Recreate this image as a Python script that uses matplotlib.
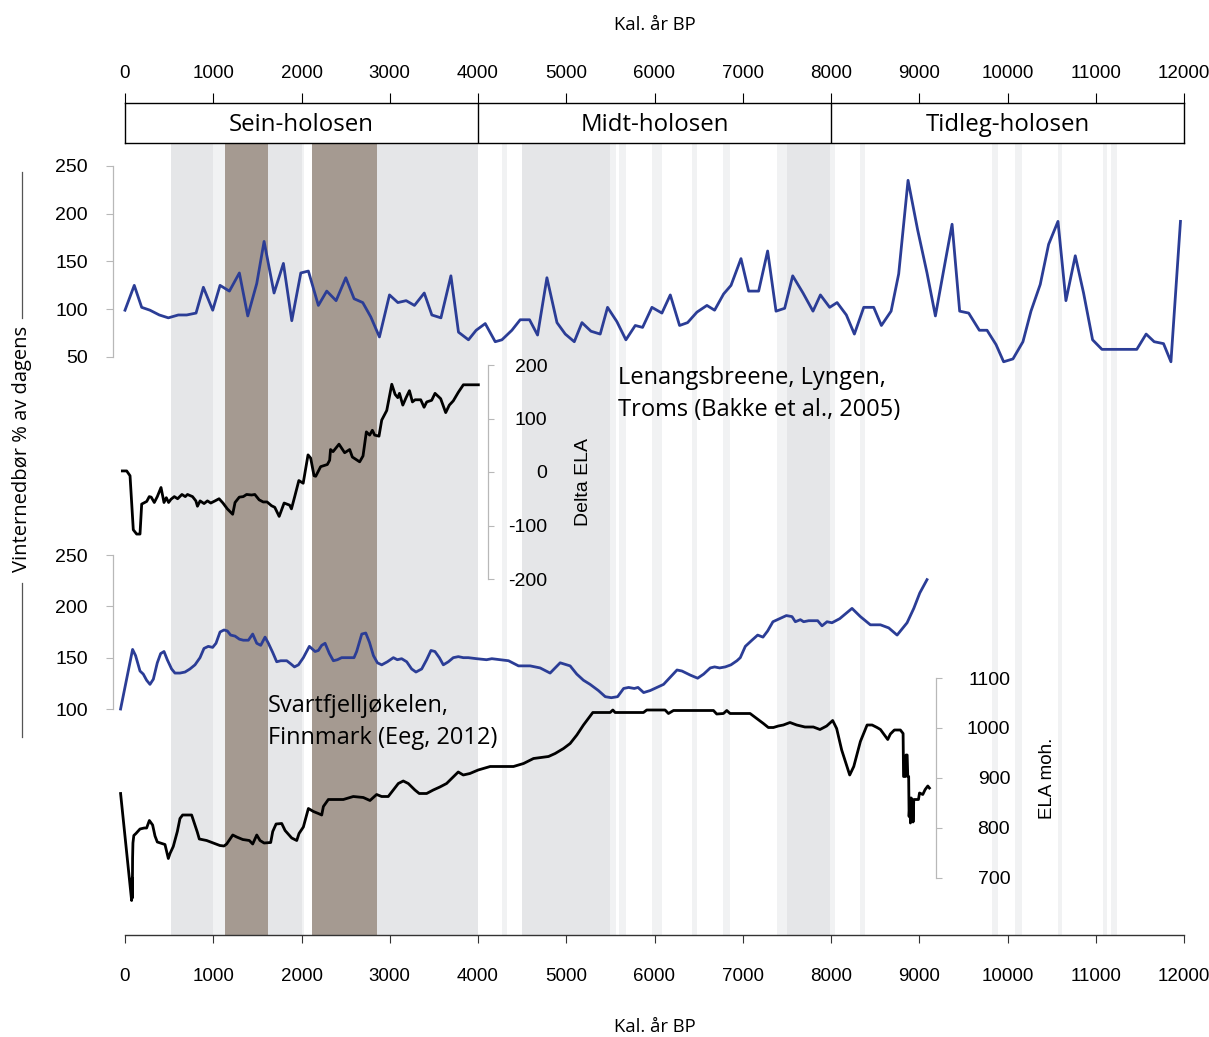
import numpy as np
import matplotlib
matplotlib.use("Agg")
import matplotlib.pyplot as plt
from matplotlib.lines import Line2D

# ==========================
# DATA
# ==========================

# Lenangsbreene - winter precipitation (% of present)
len_prec_yr = [0, 105, 189, 283, 389, 491, 604, 699, 805, 888, 994, 1077, 1183, 1296, 1391,
               1493, 1576, 1689, 1795, 1890, 1992, 2078, 2191, 2286, 2392, 2502, 2596, 2694,
               2785, 2883, 2997, 3092, 3186, 3280, 3391, 3477, 3580, 3693, 3779, 3892, 3979,
               4082, 4195, 4271, 4384, 4478, 4584, 4675, 4781, 4895, 4989, 5091, 5178, 5280,
               5385, 5468, 5574, 5676, 5782, 5865, 5971, 6084, 6179, 6284, 6375, 6481, 6594,
               6681, 6783, 6867, 6980, 7067, 7180, 7282, 7377, 7475, 7566, 7683, 7796, 7880,
               7985, 8069, 8174, 8265, 8371, 8484, 8571, 8681, 8767, 8873, 8982, 9088, 9183,
               9277, 9372, 9458, 9560, 9681, 9768, 9870, 9956, 10062, 10175, 10266, 10371,
               10466, 10572, 10662, 10768, 10862, 10964, 11070, 11163, 11276, 11370, 11465,
               11571, 11662, 11768, 11852, 11960]
len_prec = [99, 125, 102, 99, 94, 91, 94, 94, 96, 123, 99, 125, 119, 138, 93,
            127, 171, 117, 148, 88, 138, 140, 104, 119, 109, 133, 111, 107,
            92, 71, 115, 107, 109, 104, 117, 94, 91, 135, 76, 68, 78,
            85, 66, 68, 78, 89, 89, 73, 133, 86, 74, 66, 86, 77,
            74, 102, 87, 68, 83, 81, 102, 96, 115, 83, 86, 97, 104,
            99, 116, 125, 153, 119, 119, 161, 98, 101, 135, 117, 98, 115,
            102, 107, 94, 74, 102, 102, 83, 98, 137, 235, 183, 138, 93,
            141, 189, 98, 96, 78, 78, 63, 45, 48, 66, 98, 126,
            168, 192, 109, 156, 117, 68, 58, 58, 58, 58, 58,
            74, 66, 64, 45, 192]

# Lenangsbreene - delta ELA (m)
len_ela_yr = [-30, 19, 57, 94, 132, 170, 189, 246, 275, 297, 332, 366, 408, 442, 468, 494, 521,
              559, 596, 645, 683, 708, 765, 803, 821, 851, 896, 934, 972, 1020, 1066, 1110,
              1160, 1220, 1247, 1295, 1340, 1378, 1435, 1471, 1520, 1566, 1610, 1660, 1697,
              1747, 1803, 1866, 1886, 1923, 1970, 2019, 2074, 2104, 2142, 2161, 2217, 2293,
              2319, 2329, 2357, 2425, 2489, 2546, 2576, 2659, 2697, 2735, 2772, 2803, 2829,
              2878, 2909, 2966, 3023, 3061, 3091, 3110, 3148, 3185, 3223, 3257, 3287, 3351,
              3389, 3419, 3475, 3513, 3577, 3634, 3675, 3720, 3777, 3834, 4004]
len_ela = [2, 2, -7, -108, -116, -116, -60, -55, -46, -47, -57, -46, -29, -57, -48, -57, -51,
           -46, -50, -42, -46, -42, -46, -54, -64, -54, -59, -54, -58, -54, -50, -58,
           -69, -79, -57, -47, -46, -42, -43, -42, -52, -56, -56, -63, -66,
           -83, -58, -62, -69, -46, -16, -21, 32, 26, -7, -8, 10, 14,
           22, 42, 38, 52, 36, 42, 28, 19, 30, 75, 69, 78, 69,
           67, 97, 115, 164, 145, 139, 147, 125, 139, 152, 131, 135, 135,
           121, 131, 134, 147, 137, 111, 125, 133, 149, 163, 163]

# Svartfjelljokelen - winter precipitation (% of present)
sva_prec_yr = [-50, 86, 120, 170, 207, 245, 283, 321, 366, 404, 442, 479, 528, 566, 623, 680,
               736, 793, 850, 895, 944, 993, 1031, 1077, 1122, 1160, 1197, 1247, 1296, 1341,
               1398, 1447, 1493, 1538, 1587, 1625, 1674, 1719, 1765, 1833, 1878, 1920, 1965,
               2021, 2089, 2154, 2191, 2229, 2267, 2316, 2361, 2407, 2455, 2531, 2595, 2625,
               2683, 2728, 2770, 2815, 2860, 2909, 2973, 3041, 3086, 3135, 3192, 3248, 3297,
               3362, 3418, 3467, 3512, 3562, 3607, 3664, 3720, 3777, 3834, 3890, 3984, 4097,
               4157, 4251, 4346, 4459, 4591, 4704, 4817, 4931, 5044, 5119, 5195, 5270, 5364,
               5442, 5510, 5582, 5650, 5707, 5771, 5813, 5877, 5952, 6028, 6103, 6179, 6255,
               6311, 6406, 6489, 6557, 6632, 6681, 6738, 6802, 6866, 6934, 6972, 7029, 7104,
               7169, 7229, 7282, 7342, 7418, 7494, 7558, 7596, 7653, 7690, 7747, 7849, 7898,
               7955, 8011, 8099, 8238, 8333, 8446, 8560, 8654, 8749, 8862, 8938, 9006, 9088]
sva_prec = [100, 158, 152, 137, 134, 128, 124, 129, 145, 154, 156, 148, 139, 135, 135, 136,
            139, 143, 150, 159, 161, 160, 164, 175, 177, 176, 172, 171, 168, 167,
            167, 173, 164, 162, 170, 164, 155, 146, 147, 147, 144, 141, 143,
            150, 161, 156, 157, 162, 164, 154, 147, 148, 150, 150, 150, 156,
            173, 174, 165, 152, 145, 143, 146, 150, 148, 149, 146, 139, 136,
            139, 148, 157, 156, 150, 143, 146, 150, 151, 150, 150, 149, 148,
            149, 148, 147, 142, 142, 140, 135, 145, 142, 134, 128, 124, 118,
            112, 111, 112, 120, 121, 120, 121, 116, 118, 121, 124, 131, 138,
            137, 133, 130, 134, 140, 141, 140, 141, 143, 147, 150, 161, 167,
            172, 170, 176, 185, 188, 191, 190, 185, 187, 185, 186, 186, 181,
            185, 184, 188, 198, 190, 182, 182, 179, 172, 184, 198, 213, 226]

# Svartfjelljokelen - ELA (m a.s.l.)
sva_ela_yr = [-50, 75, 80, 83, 86, 90, 100, 124, 170, 218, 245, 276, 313, 340, 366, 416, 453,
              491, 510, 547, 593, 623, 653, 755, 793, 819, 842, 925, 1000, 1075, 1122, 1152,
              1221, 1266, 1334, 1409, 1447, 1493, 1530, 1576, 1651, 1674, 1712, 1776, 1814,
              1889, 1946, 1972, 2021, 2078, 2135, 2191, 2229, 2248, 2304, 2361, 2474, 2587,
              2700, 2776, 2851, 2908, 2983, 3040, 3097, 3153, 3210, 3285, 3334, 3418, 3493,
              3568, 3644, 3719, 3776, 3833, 3908, 4002, 4138, 4402, 4516, 4629, 4799, 4874,
              4969, 5044, 5120, 5195, 5301, 5497, 5528, 5554, 5875, 5912, 6120, 6158, 6215,
              6668, 6705, 6781, 6819, 6856, 7083, 7158, 7234, 7290, 7347, 7403, 7460, 7535,
              7611, 7705, 7800, 7875, 7951, 8019, 8064, 8121, 8163, 8212, 8258, 8333, 8409,
              8466, 8522, 8560, 8605, 8643, 8673, 8718, 8786, 8817, 8822, 8844, 8850, 8863,
              8870, 8880, 8885, 8895, 8900, 8910, 8915, 8925, 8930, 8938, 8991, 9003, 9040,
              9067, 9097, 9115]
sva_ela = [869, 655, 700, 660, 740, 770, 785, 789, 798, 800, 800, 815, 806, 784, 772, 769, 767,
           739, 749, 763, 793, 819, 826, 826, 806, 792, 778, 775, 770, 765, 764, 768,
           786, 782, 777, 775, 768, 786, 775, 770, 771, 793, 808, 809, 795,
           780, 775, 789, 802, 839, 833, 829, 826, 843, 857, 857, 857, 863,
           861, 855, 867, 863, 863, 876, 889, 894, 889, 876, 869, 869, 876,
           882, 889, 902, 912, 906, 909, 916, 923, 923, 929, 939, 943, 949,
           959, 969, 986, 1006, 1031, 1031, 1036, 1031, 1031, 1036, 1036, 1029, 1035,
           1035, 1028, 1029, 1035, 1029, 1029, 1019, 1009, 1001, 1001, 1004, 1006, 1011,
           1006, 1002, 1002, 997, 1004, 1015, 999, 956, 933, 906, 923, 973, 1006,
           1006, 1001, 997, 986, 977, 988, 996, 996, 989, 903, 903, 946, 946,
           903, 903, 823, 860, 810, 860, 815, 855, 812, 857, 857, 870, 867,
           877, 884, 880]

# Shaded periods (yr BP)
gray_spans = [(520, 1000), (1620, 2000), (2860, 4000), (4500, 5500), (7500, 7990)]
faint_spans = [(1000, 1130), (2000, 2030), (4270, 4330), (5500, 5560), (5600, 5680),
               (5975, 6090), (6430, 6480), (6780, 6860), (7390, 7500), (7990, 8050),
               (8330, 8390), (9830, 9890), (10090, 10160), (10570, 10620), (11080, 11130),
               (11170, 11240)]
brown_spans = [(1130, 1620), (2120, 2857)]

periods = ["Sein-holosen", "Midt-holosen", "Tidleg-holosen"]
period_edges = [0, 4000, 8000, 12000]
xticks = list(range(0, 12001, 1000))

# ==========================
# LAYOUT (pixel helpers)
# ==========================
plt.rcParams["axes.unicode_minus"] = False

W, H = 1209, 1037
X0, X1 = 125, 1184
NUM = "Liberation Sans"
TXT = "Open Sans"
BLUE = "#2b3d96"
AXG = "#b8b8b8"

fig = plt.figure(figsize=(W / 100, H / 100), dpi=100)


def px_axes(top, bottom):
    return fig.add_axes([X0 / W, 1 - bottom / H, (X1 - X0) / W, (bottom - top) / H])


def year_of(px):
    return (px - X0) / (X1 - X0) * 12000


def bare(ax):
    ax.set_facecolor("none")
    ax.set_xlim(0, 12000)
    for s in ax.spines.values():
        s.set_visible(False)
    ax.set_xticks([])


# ── background: shading + bottom axis ─────────────────────────────────────────
bg = px_axes(143, 935)
bg.set_xlim(0, 12000)
bg.set_ylim(0, 1)
for lo, hi in faint_spans:
    bg.axvspan(lo, hi, color="#f1f2f3", lw=0)
for lo, hi in gray_spans:
    bg.axvspan(lo, hi, color="#e5e6e8", lw=0)
for lo, hi in brown_spans:
    bg.axvspan(lo, hi, color="#a59a91", lw=0)
for s in ["top", "left", "right"]:
    bg.spines[s].set_visible(False)
bg.spines["bottom"].set_color("#333333")
bg.spines["bottom"].set_linewidth(1.0)
bg.set_yticks([])
bg.set_xticks(xticks)
bg.tick_params(axis="x", direction="out", length=6, color="#333333", pad=18,
               labelsize=13.5)
for t in bg.get_xticklabels():
    t.set_fontfamily(NUM)

# ── period box + top axis ─────────────────────────────────────────────────────
box = px_axes(103, 143)
box.set_xlim(0, 12000)
box.set_ylim(0, 1)
box.set_yticks([])
box.xaxis.tick_top()
box.set_xticks(xticks)
box.tick_params(axis="x", direction="out", length=7, pad=8, labelsize=13.5)
for t in box.get_xticklabels():
    t.set_fontfamily(NUM)
for s in box.spines.values():
    s.set_linewidth(1.0)
for e in period_edges[1:-1]:
    box.axvline(e, color="black", lw=1.0)
for i, name in enumerate(periods):
    box.text((period_edges[i] + period_edges[i + 1]) / 2, 0.45, name, ha="center",
             va="center", fontsize=17.3, family=TXT)


def left_axis(ax, ticks):
    ax.spines["left"].set_visible(True)
    ax.spines["left"].set_position(("axes", (113 - X0) / (X1 - X0)))
    ax.spines["left"].set_color(AXG)
    ax.spines["left"].set_linewidth(0.9)
    ax.spines["left"].set_bounds(min(ticks), max(ticks))
    ax.set_yticks(ticks)
    ax.tick_params(axis="y", direction="out", length=5, color=AXG, pad=13,
                   labelsize=14)
    for t in ax.get_yticklabels():
        t.set_fontfamily(NUM)


def right_axis(ax, ticks, spine_px, label_px):
    ax.yaxis.tick_right()
    ax.spines["right"].set_visible(True)
    ax.spines["right"].set_position(("data", year_of(spine_px)))
    ax.spines["right"].set_color(AXG)
    ax.spines["right"].set_linewidth(0.9)
    ax.spines["right"].set_bounds(min(ticks), max(ticks))
    ax.set_yticks(ticks)
    pad = (label_px - spine_px - 6) * 0.72
    ax.tick_params(axis="y", direction="out", length=4.5, color=AXG, pad=pad,
                   labelsize=14)
    for t in ax.get_yticklabels():
        t.set_fontfamily(NUM)
        t.set_horizontalalignment("right")


# ── Lenangsbreene precipitation ───────────────────────────────────────────────
a1 = px_axes(166, 357)
bare(a1)
a1.set_ylim(50, 250)
a1.plot(len_prec_yr, len_prec, color=BLUE, lw=2.0, clip_on=False)
left_axis(a1, [50, 100, 150, 200, 250])

# ── Lenangsbreene delta ELA ───────────────────────────────────────────────────
a2 = px_axes(365, 579)
bare(a2)
a2.set_ylim(-200, 200)
a2.plot(len_ela_yr, len_ela, color="black", lw=2.0, clip_on=False)
right_axis(a2, [-200, -100, 0, 100, 200], 488, 547)
a2.text(year_of(583), -18, "Delta ELA", rotation=90, ha="center", va="center",
        fontsize=14, family=NUM)

# ── Svartfjelljokelen precipitation ───────────────────────────────────────────
a3 = px_axes(555, 709)
bare(a3)
a3.set_ylim(100, 250)
a3.plot(sva_prec_yr, sva_prec, color=BLUE, lw=2.0, clip_on=False)
left_axis(a3, [100, 150, 200, 250])

# ── Svartfjelljokelen ELA ─────────────────────────────────────────────────────
a4 = px_axes(678, 878)
bare(a4)
a4.set_ylim(700, 1100)
a4.plot(sva_ela_yr, sva_ela, color="black", lw=2.0, clip_on=False)
right_axis(a4, [700, 800, 900, 1000, 1100], 936, 1010)
a4.text(year_of(1047), 900, "ELA moh.", rotation=90, ha="center", va="center",
        fontsize=13.5, family=NUM)

# ── annotations ───────────────────────────────────────────────────────────────
fig.text(618 / W, 1 - 394 / H, "Lenangsbreene, Lyngen,\nTroms (Bakke et al., 2005)",
         ha="left", va="center", fontsize=17, family=TXT, linespacing=1.45)
fig.text(268 / W, 1 - 722 / H, "Svartfjelljøkelen,\nFinnmark (Eeg, 2012)",
         ha="left", va="center", fontsize=17, family=TXT, linespacing=1.45)

fig.text(655 / W, 1 - 25 / H, "Kal. år BP", ha="center", va="center",
         fontsize=13.3, family=TXT)
fig.text(655 / W, 1 - 1027 / H, "Kal. år BP", ha="center", va="center",
         fontsize=13.3, family=TXT)

fig.text(22 / W, 1 - 449 / H, "Vinternedbør % av dagens", rotation=90, ha="center",
         va="center", fontsize=14.5, family=TXT)
fig.add_artist(Line2D([22 / W, 22 / W], [1 - 172 / H, 1 - 318 / H], color="#555555",
                      lw=0.9))
fig.add_artist(Line2D([22 / W, 22 / W], [1 - 583 / H, 1 - 737 / H], color="#555555",
                      lw=0.9))

plt.savefig("out.png", dpi=100, facecolor="white")
plt.close()
